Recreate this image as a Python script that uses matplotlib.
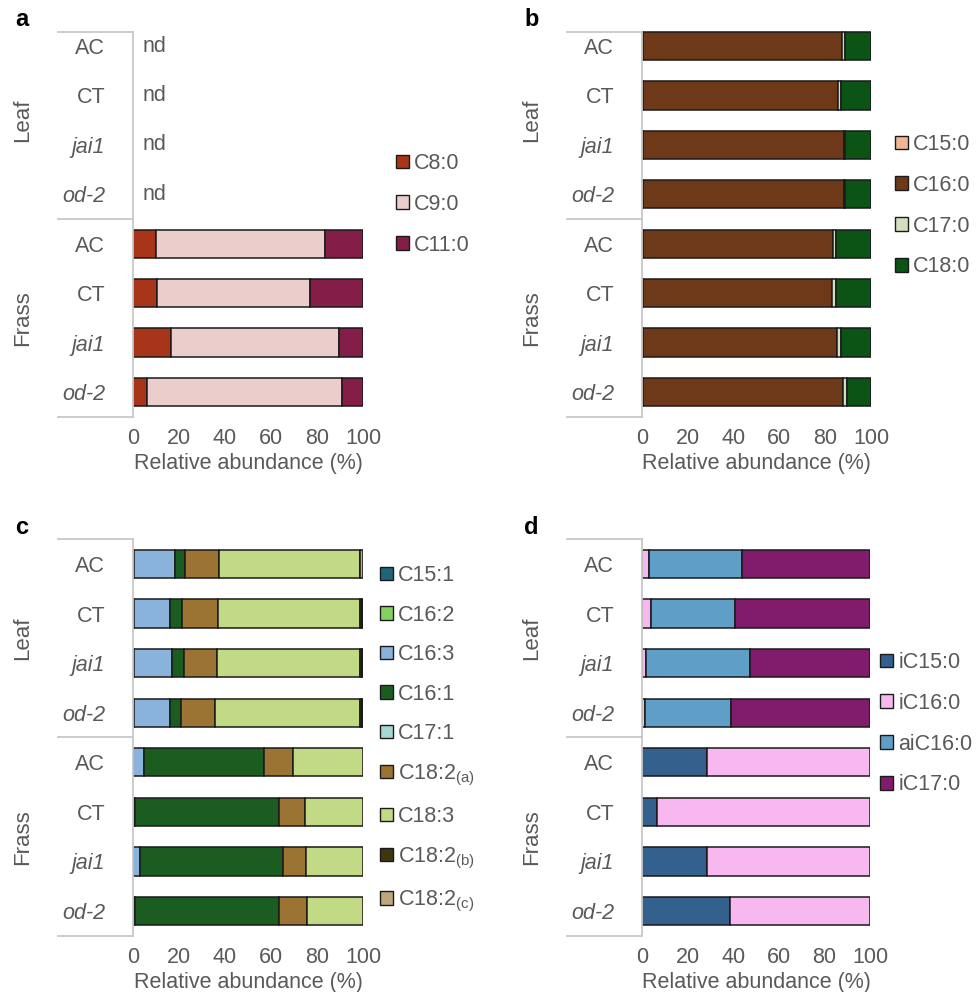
import numpy as np
import matplotlib.pyplot as plt
from matplotlib.lines import Line2D
from matplotlib.patches import Patch

plt.rcParams['font.family'] = ['Liberation Sans', 'DejaVu Sans']

W, H = 978, 992
GRAY = '#595959'
FRAME = '#C8C8C8'

genotypes = ['AC', 'CT', 'jai1', 'od-2']
tissues = ['Leaf', 'Frass']
italic_genotypes = ['jai1', 'od-2']

# panel a: short-chain fatty acids (not detected in leaves)
a_names = ['C8:0', 'C9:0', 'C11:0']
a_colors = ['#A8341A', '#EBCDCC', '#841E49']
a_c8 = [np.nan, np.nan, np.nan, np.nan, 10.0, 10.5, 16.5, 6.2]
a_c9 = [np.nan, np.nan, np.nan, np.nan, 73.5, 66.5, 73.0, 84.7]
a_c11 = [np.nan, np.nan, np.nan, np.nan, 16.5, 23.0, 10.5, 9.1]

# panel b: saturated fatty acids
b_names = ['C15:0', 'C16:0', 'C17:0', 'C18:0']
b_colors = ['#EEB695', '#6D3918', '#D2DFBF', '#0C5316']
b_c15 = [0.3, 0.3, 0.3, 0.3, 0.6, 0.5, 0.5, 0.5]
b_c16 = [87.2, 85.1, 88.0, 88.0, 82.6, 82.5, 84.8, 87.4]
b_c17 = [1.2, 1.7, 0.5, 0.5, 1.7, 1.6, 1.4, 1.7]
b_c18 = [11.3, 12.9, 11.2, 11.2, 15.1, 15.4, 13.3, 10.4]

# panel c: unsaturated fatty acids
c_names = ['C15:1', 'C16:2', 'C16:3', 'C16:1', 'C17:1',
           r'C18:2$_{\mathregular{(a)}}$', 'C18:3',
           r'C18:2$_{\mathregular{(b)}}$', r'C18:2$_{\mathregular{(c)}}$']
c_colors = ['#1F6577', '#84D15F', '#8AB3DB', '#1B5D20', '#A6D7D3',
            '#9B7332', '#C2D985', '#3E3511', '#BFA67D']
c_c151 = [0, 0, 0, 0, 0, 0, 0, 0]
c_c162 = [0.6, 0.3, 0.5, 0.4, 0, 0, 0, 0]
c_c163 = [17.6, 16.0, 16.4, 15.6, 4.7, 0.9, 3.2, 0.7]
c_c161 = [4.5, 5.0, 5.2, 4.7, 52.1, 62.7, 61.9, 62.9]
c_c171 = [0, 0, 0, 0, 0, 0, 0, 0]
c_c182a = [14.7, 15.5, 14.6, 15.0, 12.6, 11.1, 10.3, 12.1]
c_c183 = [61.1, 61.7, 62.1, 63.1, 30.6, 25.3, 24.6, 24.3]
c_c182b = [0.3, 1.0, 0.8, 0.9, 0, 0, 0, 0]
c_c182c = [1.2, 0.5, 0.4, 0.3, 0, 0, 0, 0]

# panel d: branched-chain fatty acids
d_names = ['iC15:0', 'iC16:0', 'aiC16:0', 'iC17:0']
d_colors = ['#33608D', '#F6B8EE', '#5E9EC7', '#801C6B']
d_ic15 = [0, 0, 0, 0, 28.5, 6.4, 28.5, 38.5]
d_ic16 = [3.2, 3.9, 1.6, 1.5, 71.5, 93.6, 71.5, 61.5]
d_aic16 = [40.6, 37.1, 45.6, 37.6, 0, 0, 0, 0]
d_ic17 = [56.2, 59.0, 52.8, 60.9, 0, 0, 0, 0]


def fx(px):
    return px / W


def fy(py):
    return 1 - py / H


fig = plt.figure(figsize=(W / 100, H / 100), dpi=100)


def draw_panel(letter, x0, x1, row0, row7, frame_top, frame_bot, sep,
               series, names, colors, leg_x, leg_y, leg_space, nd=False):
    step = (row7 - row0) / 7
    top = row0 - step / 2
    bot = row7 + step / 2
    ax = fig.add_axes([fx(x0), fy(bot), fx(x1 - x0), (bot - top) / H])
    rows = np.arange(8)
    left = np.zeros(8)
    handles = []
    for vals, name, col in zip(series, names, colors):
        v = np.nan_to_num(np.array(vals, dtype=float))
        keep = v > 0
        ax.barh(rows[keep], v[keep], left=left[keep], height=0.57, color=col,
                edgecolor='#1A1A1A', linewidth=1.1)
        handles.append(Patch(facecolor=col, edgecolor='#1A1A1A',
                             linewidth=1.0, label=name))
        left += v
    ax.set_xlim(0, 100)
    ax.set_ylim(7.5, -0.5)
    for s in ax.spines.values():
        s.set_visible(False)
    ax.set_xticks([0, 20, 40, 60, 80, 100])
    ax.tick_params(axis='x', length=0, pad=8, labelsize=15.5, labelcolor=GRAY)
    ax.set_yticks(rows)
    ax.set_yticklabels(genotypes * 2)
    ax.tick_params(axis='y', length=0, pad=20, labelsize=15.5, labelcolor=GRAY)
    for lab in ax.get_yticklabels():
        if lab.get_text() in italic_genotypes:
            lab.set_style('italic')
    ax.set_xlabel('Relative abundance (%)', fontsize=15.5, color=GRAY,
                  labelpad=3)
    if nd:
        for r in range(4):
            ax.text(4, r, 'nd', va='center', ha='left', fontsize=15.5,
                    color=GRAY)

    # category frame on the left
    fl = x0 - 75
    vx = x0 - 0.5
    kw = dict(color=FRAME, linewidth=1.3, transform=fig.transFigure)
    fig.add_artist(Line2D([fx(vx), fx(vx)], [fy(frame_top), fy(frame_bot)], **kw))
    for yy in (frame_top, sep, frame_bot):
        fig.add_artist(Line2D([fx(fl), fx(vx)], [fy(yy), fy(yy)], **kw))
    for t, i in zip(tissues, (0, 4)):
        yc = row0 + step * (i + 1.5)
        fig.text(fx(x0 - 110), fy(yc), t, rotation=90, ha='center',
                 va='center', fontsize=16, color=GRAY)
    fig.text(fx(x0 - 118), fy(frame_top - 12), letter, fontsize=17,
             fontweight='bold', va='center', ha='left')

    leg = ax.legend(handles=handles, loc='upper left',
                    bbox_to_anchor=(fx(leg_x), fy(leg_y)),
                    bbox_transform=fig.transFigure, frameon=False,
                    fontsize=15.5, handlelength=0.6, handleheight=0.6,
                    handletextpad=0.25, labelspacing=leg_space, borderpad=0,
                    borderaxespad=0)
    for t in leg.get_texts():
        t.set_color(GRAY)
    return ax


draw_panel('a', 133, 363, 46, 392, 32, 417, 219,
           [a_c8, a_c9, a_c11], a_names, a_colors, 396, 153, 0.92, nd=True)
draw_panel('b', 642, 871, 46, 392, 32, 417, 219,
           [b_c15, b_c16, b_c17, b_c18], b_names, b_colors, 895, 134, 0.92)
draw_panel('c', 133, 363, 564, 911, 539, 936, 737,
           [c_c151, c_c162, c_c163, c_c161, c_c171, c_c182a, c_c183,
            c_c182b, c_c182c], c_names, c_colors, 380, 565, 0.86)
draw_panel('d', 642, 870, 564, 911, 539, 936, 737,
           [d_ic15, d_ic16, d_aic16, d_ic17], d_names, d_colors, 880, 652, 0.92)

fig.savefig('out.png', dpi=100)
